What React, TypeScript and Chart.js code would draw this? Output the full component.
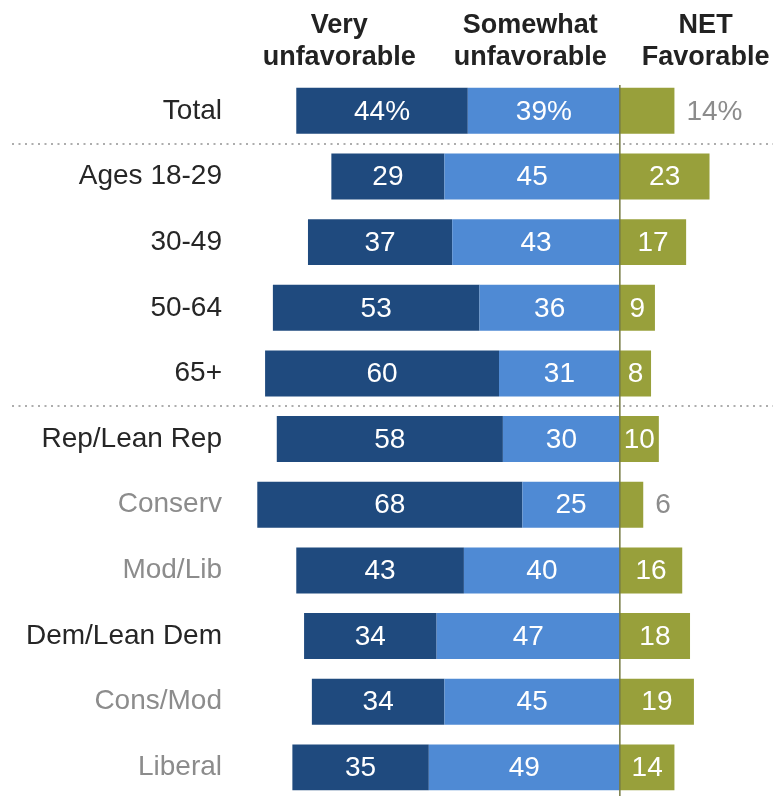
import React, { useEffect, useRef } from 'react';
import { Chart, registerables } from 'chart.js';

Chart.register(...registerables);

const categories = [
  'Total',
  'Ages 18-29',
  '30-49',
  '50-64',
  '65+',
  'Rep/Lean Rep',
  'Conserv',
  'Mod/Lib',
  'Dem/Lean Dem',
  'Cons/Mod',
  'Liberal',
];
const veryUnfavorable = [44, 29, 37, 53, 60, 58, 68, 43, 34, 34, 35];
const somewhatUnfavorable = [39, 45, 43, 36, 31, 30, 25, 40, 47, 45, 49];
const netFavorable = [14, 23, 17, 9, 8, 10, 6, 16, 18, 19, 14];
const subgroupCategories = ['Conserv', 'Mod/Lib', 'Cons/Mod', 'Liberal'];
const separatorsAfter = ['Total', '65+'];
const headerVery = ['Very', 'unfavorable'];
const headerSomewhat = ['Somewhat', 'unfavorable'];
const headerNet = ['NET', 'Favorable'];

const FONT = '"Liberation Sans", Arial, sans-serif';
const DARK = '#1f4a7e';
const LIGHT = '#4f8ad4';
const OLIVE = '#98a03b';

const overlay = {
  id: 'overlay',
  afterDatasetsDraw(chart: any) {
    const { ctx, scales } = chart;
    const x = scales.x;
    const y = scales.y;
    const zero = x.getPixelForValue(0);
    ctx.save();

    // dotted separators
    ctx.strokeStyle = '#adadad';
    ctx.lineWidth = 2;
    ctx.setLineDash([2, 4.5]);
    separatorsAfter.forEach((c) => {
      const i = categories.indexOf(c);
      const yy = Math.round((y.getPixelForValue(i) + y.getPixelForValue(i + 1)) / 2);
      ctx.beginPath();
      ctx.moveTo(12, yy);
      ctx.lineTo(chart.width, yy);
      ctx.stroke();
    });
    ctx.setLineDash([]);

    // zero line
    ctx.strokeStyle = '#767a45';
    ctx.lineWidth = 1.5;
    ctx.beginPath();
    ctx.moveTo(zero, 85);
    ctx.lineTo(zero, chart.height);
    ctx.stroke();

    // value labels
    ctx.font = '28px ' + FONT;
    ctx.textBaseline = 'middle';
    chart.data.datasets.forEach((ds: any, di: number) => {
      const meta = chart.getDatasetMeta(di);
      meta.data.forEach((bar: any, i: number) => {
        const v = Math.abs(ds.data[i]);
        const label = i === 0 ? v + '%' : String(v);
        const p = bar.getProps(['x', 'base', 'y'], true);
        const w = Math.abs(p.x - p.base);
        const tw = ctx.measureText(label).width;
        const outside = ds.isNet && (w < 30 || tw > w - 2);
        if (outside) {
          ctx.fillStyle = '#8c8c8c';
          ctx.textAlign = 'left';
          ctx.fillText(label, Math.max(p.x, p.base) + 12, p.y + 1);
        } else {
          ctx.fillStyle = '#ffffff';
          ctx.textAlign = 'center';
          ctx.fillText(label, (p.x + p.base) / 2, p.y + 1);
        }
      });
    });

    // headers
    ctx.font = 'bold 27px ' + FONT;
    ctx.fillStyle = '#222222';
    ctx.textAlign = 'center';
    ctx.textBaseline = 'alphabetic';
    const drawHeader = (lines: string[], cx: number) => {
      ctx.fillText(lines[0], cx, 33);
      ctx.fillText(lines[1], cx, 65);
    };
    drawHeader(headerVery, x.getPixelForValue(-72));
    drawHeader(headerSomewhat, x.getPixelForValue(-23));
    drawHeader(headerNet, x.getPixelForValue(22));

    ctx.restore();
  },
};

export default function App() {
  const ref = useRef<HTMLCanvasElement | null>(null);

  useEffect(() => {
    if (!ref.current) return;
    const chart = new Chart(ref.current, {
      type: 'bar',
      data: {
        labels: categories,
        datasets: [
          {
            label: 'Somewhat unfavorable',
            data: somewhatUnfavorable.map((v) => -v),
            backgroundColor: LIGHT,
            barPercentage: 0.7,
            categoryPercentage: 1,
            borderWidth: 0,
          },
          {
            label: 'Very unfavorable',
            data: veryUnfavorable.map((v) => -v),
            backgroundColor: DARK,
            barPercentage: 0.7,
            categoryPercentage: 1,
            borderWidth: 0,
          },
          {
            label: 'NET Favorable',
            data: netFavorable,
            backgroundColor: OLIVE,
            barPercentage: 0.7,
            categoryPercentage: 1,
            borderWidth: 0,
            isNet: true,
          } as any,
        ],
      },
      options: {
        indexAxis: 'y',
        responsive: false,
        animation: false,
        devicePixelRatio: 1,
        layout: { padding: { top: 78, right: 5, bottom: 0, left: 0 } },
        plugins: {
          legend: { display: false },
          tooltip: { enabled: false },
        },
        scales: {
          x: {
            display: false,
            stacked: true,
            min: -100,
            max: 38,
          },
          y: {
            stacked: true,
            grid: { display: false, drawTicks: false },
            border: { display: false },
            afterFit: (s: any) => {
              s.width = 230;
            },
            ticks: {
              autoSkip: false,
              padding: 8,
              font: { family: FONT, size: 28 },
              color: (c: any) =>
                subgroupCategories.includes(categories[c.index]) ? '#8c8c8c' : '#262626',
            },
          },
        },
      },
      plugins: [overlay],
    });
    return () => chart.destroy();
  }, []);

  return (
    <div
      style={{
        position: 'fixed',
        left: 0,
        top: 0,
        width: 773,
        height: 796,
        overflow: 'hidden',
        background: '#ffffff',
      }}
    >
      <canvas ref={ref} width={773} height={825} style={{ display: 'block' }} />
    </div>
  );
}
